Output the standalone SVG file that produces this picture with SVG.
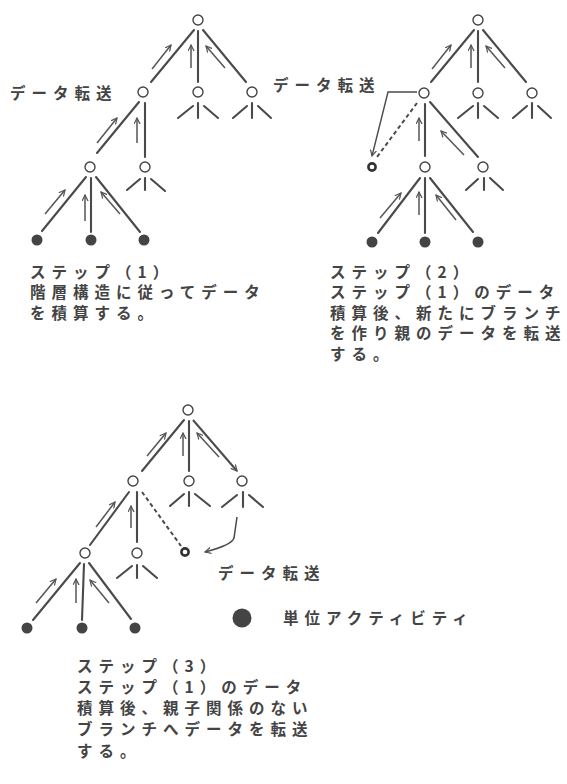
<svg xmlns="http://www.w3.org/2000/svg" width="567" height="784" viewBox="0 0 567 784">
<style>
.e{stroke:#4a4a4a;stroke-width:2.1;fill:none;stroke-linecap:round}
.a{stroke:#555;stroke-width:1.5;fill:none;marker-end:url(#ah)}
.em{stroke:#4a4a4a;stroke-width:2;fill:none;marker-end:url(#ah)}
.d{stroke:#4a4a4a;stroke-width:2;fill:none;stroke-dasharray:4 3}
.n{fill:#fff;stroke:#444;stroke-width:1.4}
.b{fill:#fff;stroke:#333;stroke-width:2.6}
.l{fill:#444}
.t{font-family:"Noto Sans CJK JP",sans-serif;font-size:15.5px;letter-spacing:6px;fill:#444;font-weight:bold}
</style>
<defs>
<marker id="ah" viewBox="0 0 8 8" refX="7" refY="4" markerWidth="7" markerHeight="7" markerUnits="userSpaceOnUse" orient="auto"><path d="M0,0.5 L7,4 L0,7.5" fill="none" stroke="#555" stroke-width="1.4"/></marker>
</defs>
<rect width="567" height="784" fill="#fff"/>
<g id="connectors">
<!-- step 1 -->
<line class="e" x1="194" y1="30" x2="151" y2="82"/>
<line class="e" x1="198" y1="31" x2="198" y2="82"/>
<line class="e" x1="203" y1="30" x2="246" y2="82"/>
<line class="e" x1="139" y1="102" x2="97" y2="153"/>
<line class="e" x1="145" y1="103" x2="145" y2="157"/>
<line class="e" x1="86" y1="177" x2="42" y2="231"/>
<line class="e" x1="91" y1="178" x2="91" y2="232"/>
<line class="e" x1="96" y1="177" x2="140" y2="232"/>
<line class="e" x1="193" y1="106" x2="178" y2="118"/><line class="e" x1="198" y1="103" x2="198" y2="118"/><line class="e" x1="204" y1="106" x2="218" y2="118"/>
<line class="e" x1="247" y1="106" x2="233" y2="118"/><line class="e" x1="252" y1="103" x2="252" y2="118"/><line class="e" x1="258" y1="106" x2="271" y2="118"/>
<line class="e" x1="140" y1="179" x2="127" y2="190"/><line class="e" x1="145" y1="178" x2="145" y2="190"/><line class="e" x1="151" y1="179" x2="165" y2="191"/>
<line class="a" x1="152" y1="69" x2="171" y2="45"/>
<line class="a" x1="191" y1="68" x2="191" y2="45"/>
<line class="a" x1="225" y1="68" x2="206" y2="46"/>
<line class="a" x1="97" y1="143" x2="117" y2="118"/>
<line class="a" x1="137" y1="143" x2="137" y2="118"/>
<line class="a" x1="45" y1="214" x2="65" y2="190"/>
<line class="a" x1="85" y1="221" x2="85" y2="195"/>
<line class="a" x1="120" y1="214" x2="101" y2="192"/>
<!-- step 2 -->
<line class="e" x1="474" y1="30" x2="431" y2="82"/>
<line class="e" x1="478" y1="31" x2="478" y2="82"/>
<line class="e" x1="483" y1="30" x2="526" y2="82"/>
<line class="e" x1="425" y1="104" x2="425" y2="156"/>
<line class="e" x1="430" y1="102" x2="478" y2="157"/>
<line class="d" x1="417" y1="103" x2="377" y2="157"/>
<polyline class="em" style="stroke-width:1.4" points="417,92 388,92 372,156"/>
<line class="e" x1="420" y1="178" x2="378" y2="233"/>
<line class="e" x1="425" y1="178" x2="425" y2="233"/>
<line class="e" x1="430" y1="178" x2="473" y2="232"/>
<line class="e" x1="473" y1="106" x2="458" y2="118"/><line class="e" x1="478" y1="103" x2="478" y2="118"/><line class="e" x1="484" y1="106" x2="498" y2="118"/>
<line class="e" x1="527" y1="106" x2="513" y2="118"/><line class="e" x1="532" y1="103" x2="532" y2="118"/><line class="e" x1="538" y1="106" x2="551" y2="118"/>
<line class="e" x1="478" y1="179" x2="466" y2="190"/><line class="e" x1="484" y1="178" x2="484" y2="190"/><line class="e" x1="490" y1="178" x2="503" y2="190"/>
<line class="a" x1="432" y1="69" x2="451" y2="45"/>
<line class="a" x1="471" y1="68" x2="471" y2="45"/>
<line class="a" x1="505" y1="68" x2="486" y2="46"/>
<line class="a" x1="419" y1="141" x2="419" y2="118"/>
<line class="a" x1="464" y1="155" x2="441" y2="131"/>
<line class="a" x1="380" y1="218" x2="401" y2="193"/>
<line class="a" x1="419" y1="215" x2="419" y2="192"/>
<line class="a" x1="456" y1="220" x2="436" y2="195"/>
<!-- step 3 -->
<line class="e" x1="184" y1="420" x2="142" y2="471"/>
<line class="e" x1="189" y1="421" x2="189" y2="471"/>
<line class="em" x1="193" y1="420" x2="237" y2="471"/>
<line class="e" x1="129" y1="492" x2="90" y2="545"/>
<line class="e" x1="137" y1="492" x2="137" y2="542"/>
<line class="d" x1="142" y1="492" x2="181" y2="546"/>
<line class="e" x1="80" y1="563" x2="33" y2="620"/>
<line class="e" x1="84" y1="564" x2="82" y2="620"/>
<line class="e" x1="89" y1="563" x2="131" y2="619"/>
<line class="e" x1="184" y1="494" x2="170" y2="506"/><line class="e" x1="189" y1="492" x2="189" y2="506"/><line class="e" x1="195" y1="494" x2="210" y2="506"/>
<line class="e" x1="237" y1="495" x2="222" y2="507"/><line class="e" x1="243" y1="492" x2="243" y2="507"/><line class="e" x1="249" y1="495" x2="263" y2="507"/>
<line class="e" x1="132" y1="566" x2="117" y2="578"/><line class="e" x1="137" y1="565" x2="137" y2="578"/><line class="e" x1="143" y1="566" x2="157" y2="578"/>
<path class="em" style="stroke-width:1.5" d="M237,517 L234,538 Q232,545 205,552"/>
<line class="a" x1="147" y1="456" x2="166" y2="433"/>
<line class="a" x1="183" y1="456" x2="183" y2="433"/>
<line class="a" x1="219" y1="457" x2="197" y2="433"/>
<line class="a" x1="96" y1="527" x2="115" y2="502"/>
<line class="a" x1="131" y1="528" x2="131" y2="506"/>
<line class="a" x1="36" y1="603" x2="56" y2="579"/>
<line class="a" x1="76" y1="603" x2="76" y2="579"/>
<line class="a" x1="109" y1="603" x2="90" y2="580"/>
</g>
<g id="s1-root"><circle class="n" cx="198" cy="20" r="5"/></g>
<g id="s1-n1"><circle class="n" cx="143" cy="92" r="5"/></g>
<g id="s1-n2"><circle class="n" cx="198" cy="92" r="5"/></g>
<g id="s1-n3"><circle class="n" cx="252" cy="92" r="5"/></g>
<g id="s1-n11"><circle class="n" cx="90" cy="167" r="5"/></g>
<g id="s1-n12"><circle class="n" cx="145" cy="167" r="5"/></g>
<g id="s1-leaf1"><circle class="l" cx="37" cy="240" r="5.5"/></g>
<g id="s1-leaf2"><circle class="l" cx="91" cy="240" r="5.5"/></g>
<g id="s1-leaf3"><circle class="l" cx="144" cy="240" r="5.5"/></g>
<g id="s2-root"><circle class="n" cx="478" cy="20" r="5"/></g>
<g id="s2-n1"><circle class="n" cx="424" cy="93" r="5"/></g>
<g id="s2-n2"><circle class="n" cx="478" cy="93" r="5"/></g>
<g id="s2-n3"><circle class="n" cx="532" cy="93" r="5"/></g>
<g id="s2-new"><circle class="b" cx="372" cy="167" r="3.6"/></g>
<g id="s2-n11"><circle class="n" cx="425" cy="167" r="5"/></g>
<g id="s2-n12"><circle class="n" cx="483" cy="167" r="5"/></g>
<g id="s2-leaf1"><circle class="l" cx="372" cy="242" r="5.5"/></g>
<g id="s2-leaf2"><circle class="l" cx="425" cy="242" r="5.5"/></g>
<g id="s2-leaf3"><circle class="l" cx="478" cy="242" r="5.5"/></g>
<g id="s3-root"><circle class="n" cx="188" cy="410" r="5"/></g>
<g id="s3-n1"><circle class="n" cx="133" cy="481" r="5"/></g>
<g id="s3-n2"><circle class="n" cx="189" cy="481" r="5"/></g>
<g id="s3-n3"><circle class="n" cx="242" cy="481" r="5"/></g>
<g id="s3-n11"><circle class="n" cx="85" cy="553" r="5"/></g>
<g id="s3-n12"><circle class="n" cx="137" cy="553" r="5"/></g>
<g id="s3-new"><circle class="b" cx="185" cy="552" r="3.6"/></g>
<g id="s3-leaf1"><circle class="l" cx="27" cy="628" r="5.5"/></g>
<g id="s3-leaf2"><circle class="l" cx="82" cy="628" r="5.5"/></g>
<g id="s3-leaf3"><circle class="l" cx="135" cy="628" r="5.5"/></g>
<g id="legend"><circle class="l" cx="242" cy="618" r="9.5"/><text class="t" x="283" y="623.5">単位アクティビティ</text></g>
<g id="labels">
<text class="t" x="10" y="98.5">データ転送</text>
<text class="t" x="273" y="90.5">データ転送</text>
<text class="t" x="218" y="578.5">データ転送</text>
</g>
<g id="caption1">
<text class="t" x="30" y="277.5">ステップ（1）</text>
<text class="t" x="30" y="298">階層構造に従ってデータ</text>
<text class="t" x="30" y="318.5">を積算する。</text>
</g>
<g id="caption2">
<text class="t" x="330" y="277.5">ステップ（2）</text>
<text class="t" x="330" y="298">ステップ（1）のデータ</text>
<text class="t" x="330" y="318.5">積算後、新たにブランチ</text>
<text class="t" x="330" y="339">を作り親のデータを転送</text>
<text class="t" x="330" y="359.5">する。</text>
</g>
<g id="caption3">
<text class="t" x="77" y="671.5">ステップ（3）</text>
<text class="t" x="77" y="692.5">ステップ（1）のデータ</text>
<text class="t" x="77" y="713.5">積算後、親子関係のない</text>
<text class="t" x="77" y="735">ブランチへデータを転送</text>
<text class="t" x="77" y="756.5">する。</text>
</g>
</svg>
